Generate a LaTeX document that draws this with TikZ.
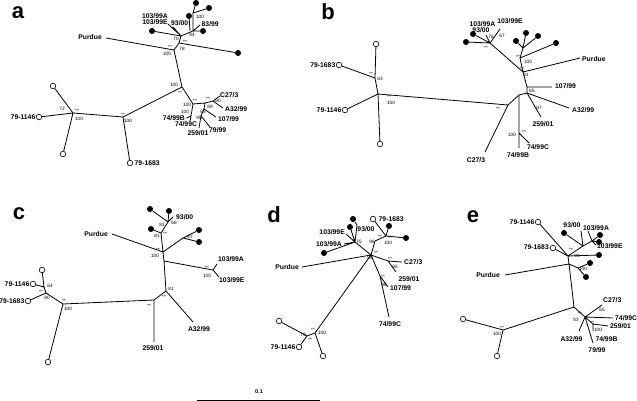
\documentclass[tikz,border=0pt]{standalone}
\usepackage{fontspec}
\setmainfont{Liberation Sans}
\begin{document}
\begin{tikzpicture}[x=1pt,y=-1pt,
 br/.style={line width=0.8pt},
 lf/.style={font=\fontsize{6.8}{7}\selectfont\bfseries, inner sep=0pt},
 bs/.style={font=\fontsize{4.7}{5}\selectfont, inner sep=0pt},
 oc/.style={circle, draw, line width=0.6pt, minimum size=5.6pt, inner sep=0pt, fill=white},
 fc/.style={circle, fill=black, minimum size=6pt, inner sep=0pt},
 pl/.style={font=\fontsize{22}{22}\selectfont\bfseries, inner sep=0pt}]
\useasboundingbox (0,0) rectangle (637,401);
\fill[white] (0,0) rectangle (637,401);
% ================= panel a =================
\node[pl] (la) at (18,13) {a};
\coordinate (a1) at (73,113);
\coordinate (a2) at (123,117);
\coordinate (a3) at (182,87);
\coordinate (a4) at (174,50);
\coordinate (a5) at (179,43);
\coordinate (a6) at (181,36);
\coordinate (a7) at (193,31);
\coordinate (a7b) at (190,31);
\coordinate (a8) at (193,13);
\node[oc] (aO1) at (53,86) {};
\node[oc] (aO2) at (39,117) {};
\node[oc] (aO3) at (63,154) {};
\node[oc] (aO4) at (130,163) {};
\node[lf,anchor=east] (aT1) at (35.5,117) {79-1146};
\node[lf,anchor=west] (aT2) at (134.5,163) {79-1683};
\coordinate (aP) at (106,38);
\node[lf,anchor=east] (aT3) at (102,37) {Purdue};
\node[fc] (aF1) at (238,53) {};
\node[fc] (aF2) at (152,31) {};
\node[fc] (aF3) at (203,31) {};
\node[fc] (aF4) at (196,3) {};
\node[fc] (aF5) at (209,8) {};
\node[fc] (aF6) at (189,16) {};
\coordinate (aE) at (168,24);
\coordinate (aN) at (173,27);
\coordinate (aQ) at (200,25);
\node[lf] (aT4) at (155,16) {103/99A};
\node[lf] (aT5) at (155,22.5) {103/99E};
\node[lf,anchor=west] (aT6) at (171,23.5) {93/00};
\node[lf,anchor=west] (aT7) at (201.5,24) {83/99};
\coordinate (a9) at (193,104);
\coordinate (a9b) at (191,116);
\coordinate (aB) at (186.5,118);
\coordinate (aC) at (190,121);
\node[lf,anchor=east] (aT8) at (185,118) {74/99B};
\node[lf] (aT9) at (186,124.5) {74/99C};
\coordinate (a10) at (205,103);
\coordinate (a11) at (213,101);
\coordinate (aC27) at (220,96);
\coordinate (aA32) at (223,108);
\node[lf,anchor=west] (aT10) at (220,95) {C27/3};
\node[lf,anchor=west] (aT11) at (225,109.5) {A32/99};
\coordinate (a12) at (204,109);
\coordinate (a107) at (216,117);
\node[lf,anchor=west] (aT12) at (218,119) {107/99};
\coordinate (a13) at (201,116);
\coordinate (a79) at (210,127);
\coordinate (a259) at (199,128);
\node[lf,anchor=west] (aT13) at (209,130) {79/99};
\node[lf] (aT14) at (198,133.5) {259/01};
\draw[br] (a1)--(aO1) (a1)--(aO2) (a1)--(aO3) (a1)--(a2) (a2)--(aO4) (a2)--(a3)
 (a3)--(a4) (a4)--(aP) (a4)--(a5) (a5)--(aF1) (a5)--(a6) (a6)--(aF2) (a6)--(aE)
 (a6)--(aN) (a6)--(a7) (a7)--(aF3) (a7)--(aQ) (a7)--(a8) (a8)--(aF4) (a8)--(aF5) (a7b)--(aF6)
 (a3)--(a9) (a9)--(a9b) (a9b)--(aB) (a9b)--(aC) (a9)--(a10) (a10)--(a11) (a11)--(aC27)
 (a11)--(aA32) (a10)--(a12) (a12)--(a107) (a12)--(a13) (a13)--(a79) (a13)--(a259);
\node[bs] (ab1) at (62,109) {72};
\node[bs] (ab2) at (77,111) {**};
\node[bs] (ab3) at (79,119) {100};
\node[bs] (ab4) at (123,115) {**};
\node[bs] (ab5) at (128,121) {100};
\node[bs] (ab6) at (174,85) {100};
\node[bs] (ab7) at (180,92.5) {**};
\node[bs] (ab8) at (167,54) {100};
\node[bs] (ab9) at (170,47) {**};
\node[bs] (ab10) at (182,49) {78};
\node[bs] (ab11) at (185,42) {**};
\node[bs] (ab12) at (176,38.5) {70};
\node[bs] (ab13) at (192,34.5) {84};
\node[bs] (ab14) at (200,17) {100};
\node[bs] (ab15) at (195,101) {**};
\node[bs] (ab16) at (187,104.5) {100};
\node[bs] (ab17) at (185,112) {100};
\node[bs] (ab18) at (208,99) {**};
\node[bs] (ab19) at (218,101) {80};
\node[bs] (ab20) at (210,107) {89};
\node[bs] (ab21) at (203,111.5) {65};
\node[bs] (ab22) at (199,118) {95};
% ================= panel b =================
\node[pl] (lb) at (328,12) {b};
\coordinate (b1) at (375,78);
\coordinate (b2) at (378,94);
\node[oc] (bO1) at (339,65) {};
\node[oc] (bO2) at (376,44) {};
\node[oc] (bO3) at (345,110) {};
\node[oc] (bO4) at (380,144) {};
\node[lf,anchor=east] (bT1) at (335.5,65) {79-1683};
\node[lf,anchor=east] (bT2) at (341.5,110) {79-1146};
\coordinate (b3) at (508,105);
\coordinate (bC27) at (485,152);
\node[lf] (bT3) at (476,160.5) {C27/3};
\coordinate (b4) at (519,95);
\coordinate (bB) at (519,148);
\node[lf] (bT4) at (518,155.5) {74/99B};
\coordinate (bn) at (519,133);
\coordinate (bCc) at (529,143);
\node[lf] (bT5) at (538,147.5) {74/99C};
\coordinate (bq) at (527,93);
\coordinate (bA32) at (569,108);
\node[lf,anchor=west] (bT6) at (572,110.5) {A32/99};
\coordinate (b259) at (541,117);
\node[lf] (bT7) at (543,124.5) {259/01};
\coordinate (b5) at (527,87);
\coordinate (b107) at (552,87);
\node[lf,anchor=west] (bT8) at (555,86.5) {107/99};
\coordinate (b7) at (523,72);
\coordinate (bP) at (580,58);
\node[lf,anchor=west] (bT9) at (582,59) {Purdue};
\coordinate (b8) at (520,58);
\coordinate (bm) at (523,48);
\node[fc] (bF1) at (516,41) {};
\node[fc] (bF2) at (526,33) {};
\node[fc] (bF3) at (538,36) {};
\node[fc] (bF4) at (556,43) {};
\coordinate (b9) at (490,43);
\node[fc] (bF5) at (466,42) {};
\node[fc] (bF6) at (473,34) {};
\coordinate (bE) at (500,29);
\coordinate (bA) at (486,35);
\node[lf] (bT10) at (482.5,24.5) {103/99A};
\node[lf] (bT11) at (481,30.5) {93/00};
\node[lf] (bT12) at (510,21.5) {103/99E};
\draw[br] (b1)--(bO1) (b1)--(bO2) (b1)--(b2) (b2)--(bO3) (b2)--(bO4) (b2)--(b3)
 (b3)--(bC27) (b3)--(b4) (b4)--(bn) (bn)--(bB) (bn)--(bCc) (b4)--(bq) (bq)--(bA32)
 (bq)--(b259) (bq)--(b5) (b5)--(b107) (b5)--(b7) (b7)--(bP) (b7)--(b8) (b8)--(bm)
 (bm)--(bF1) (bm)--(bF2) (bm)--(bF3) (b8)--(bF4) (b7)--(b9) (b9)--(bF5) (b9)--(bF6)
 (b9)--(bE) (b9)--(bA);
\node[bs] (bb1) at (371,73.5) {**};
\node[bs] (bb2) at (380,79) {63};
\node[bs] (bb3) at (389,97) {**};
\node[bs] (bb4) at (391,103) {100};
\node[bs] (bb5) at (498,109) {**};
\node[bs] (bb6) at (512,135) {100};
\node[bs] (bb7) at (524,132) {**};
\node[bs] (bb8) at (532,91) {65};
\node[bs] (bb9) at (539,107.5) {87};
\node[bs] (bb10) at (522,69) {**};
\node[bs] (bb11) at (526,74.5) {81};
\node[bs] (bb12) at (518,57) {**};
\node[bs] (bb13) at (528,62) {100};
\node[bs] (bb14) at (486,48) {**};
\node[bs] (bb15) at (491,37) {76};
\node[bs] (bb16) at (502,36) {67};
% ================= panel c =================
\node[pl] (lc) at (19,214) {c};
\coordinate (c1) at (46,293);
\coordinate (c2) at (44,287);
\node[oc] (cO1) at (28,301) {};
\node[oc] (cO2) at (33,284) {};
\node[oc] (cO3) at (42,270) {};
\node[lf,anchor=east] (cT1) at (24.5,301) {79-1683};
\node[lf,anchor=east] (cT2) at (29.5,284) {79-1146};
\coordinate (c3) at (63,304);
\node[oc] (cO4) at (48,362) {};
\coordinate (c4) at (154,300);
\coordinate (c259) at (154,342);
\node[lf] (cT3) at (153,348.5) {259/01};
\coordinate (c5) at (166,291);
\coordinate (cA32) at (193,322);
\node[lf] (cT4) at (199,329) {A32/99};
\coordinate (c6) at (164,261);
\coordinate (c7) at (163,252);
\coordinate (cP) at (112,234);
\node[lf,anchor=east] (cT5) at (108,234.5) {Purdue};
\coordinate (c8) at (161,233);
\node[fc] (cF1) at (151,229) {};
\coordinate (c9) at (168,222);
\node[fc] (cF2) at (150,209) {};
\node[fc] (cF3) at (169,211) {};
\coordinate (c93) at (173,217);
\node[lf,anchor=west] (cT6) at (176,217.5) {93/00};
\coordinate (c10) at (183,238);
\node[fc] (cF4) at (199,230) {};
\node[fc] (cF5) at (199,242) {};
\coordinate (c11) at (213,270);
\coordinate (cA) at (217,264);
\coordinate (cE) at (219,277);
\node[lf,anchor=west] (cT7) at (218,259.5) {103/99A};
\node[lf,anchor=west] (cT8) at (219,280.5) {103/99E};
\draw[br] (c2)--(cO2) (c2)--(cO3) (c2)--(c1) (c1)--(cO1) (c1)--(c3) (c3)--(cO4) (c3)--(c4)
 (c4)--(c259) (c4)--(c5) (c5)--(cA32) (c5)--(c6) (c6)--(c7) (c7)--(cP) (c7)--(c8)
 (c8)--(cF1) (c8)--(c9) (c9)--(cF2) (c9)--(cF3) (c9)--(c93) (c7)--(c10) (c10)--(cF4)
 (c10)--(cF5) (c6)--(c11) (c11)--(cA) (c11)--(cE);
\node[bs] (cb1) at (41,292) {**};
\node[bs] (cb2) at (47,298) {90};
\node[bs] (cb3) at (50,286) {64};
\node[bs] (cb4) at (64,301) {**};
\node[bs] (cb5) at (68,309) {100};
\node[bs] (cb6) at (149,306) {**};
\node[bs] (cb7) at (171,289) {81};
\node[bs] (cb8) at (164,297) {**};
\node[bs] (cb9) at (158,250) {**};
\node[bs] (cb10) at (155,256) {100};
\node[bs] (cb11) at (157,236) {81};
\node[bs] (cb12) at (165,234) {**};
\node[bs] (cb13) at (162,225) {81};
\node[bs] (cb14) at (174,223) {68};
\node[bs] (cb15) at (190,237) {87};
\node[bs] (cb16) at (207,268) {**};
\node[bs] (cb17) at (207,276) {100};
% ================= panel d =================
\node[pl] (ld) at (274,215) {d};
\coordinate (d1) at (315,333);
\node[oc] (dO1) at (323,356) {};
\coordinate (d2) at (307,336);
\node[oc] (dO2) at (279,321) {};
\node[oc] (dO3) at (299,347) {};
\node[lf,anchor=east] (dT1) at (295.5,347) {79-1146};
\coordinate (d3) at (371,255);
\coordinate (dP) at (302,267);
\node[lf,anchor=east] (dT2) at (299,267.5) {Purdue};
\coordinate (d4) at (388,261);
\coordinate (dC) at (402,262);
\node[lf,anchor=west] (dT3) at (404,262.5) {C27/3};
\coordinate (d259) at (396,272);
\node[lf] (dT4) at (409,279) {259/01};
\coordinate (d5) at (380,276);
\coordinate (d107) at (388,287);
\node[lf,anchor=west] (dT5) at (390,288.5) {107/99};
\coordinate (dCc) at (389,317);
\node[lf] (dT6) at (390,324.5) {74/99C};
\coordinate (d6) at (355,242);
\coordinate (dE) at (346,234);
\coordinate (dA) at (344,244);
\node[lf,anchor=east] (dT7) at (345,232.5) {103/99E};
\node[lf,anchor=east] (dT8) at (342,244.5) {103/99A};
\node[fc] (dF1) at (324,253) {};
\node[fc] (dF2) at (350,227) {};
\node[fc] (dF3) at (353,219) {};
\coordinate (d93) at (357,225);
\node[lf] (dT9) at (366,229.5) {93/00};
\coordinate (d7) at (375,241);
\coordinate (d8) at (386,236);
\node[oc] (dO4) at (373,219) {};
\node[lf,anchor=west] (dT10) at (378.5,219) {79-1683};
\node[fc] (dF4) at (389,226) {};
\node[fc] (dF5) at (406,238) {};
\draw[br] (d1)--(dO1) (d1)--(d2) (d2)--(dO2) (d2)--(dO3) (d1)--(d3) (d3)--(dP) (d3)--(d4)
 (d4)--(dC) (d4)--(d259) (d3)--(d5) (d5)--(d107) (d5)--(dCc) (d3)--(d6) (d6)--(dE)
 (d6)--(dA) (d6)--(dF1) (d6)--(dF2) (d6)--(d93) (d93)--(dF3) (d3)--(d7) (d7)--(d8)
 (d8)--(dO4) (d8)--(dF4) (d8)--(dF5);
\node[bs] (db1) at (313,330) {**};
\node[bs] (db2) at (322,333) {100};
\node[bs] (db3) at (303,335) {79};
\node[bs] (db4) at (310,340) {**};
\node[bs] (db5) at (376,253) {**};
\node[bs] (db6) at (370,258) {85};
\node[bs] (db7) at (390,259) {**};
\node[bs] (db8) at (395,267) {85};
\node[bs] (db9) at (383,277) {**};
\node[bs] (db10) at (384,285) {96};
\node[bs] (db11) at (359,242) {75};
\node[bs] (db12) at (372,242) {96};
\node[bs] (db13) at (380,237) {**};
\node[bs] (db14) at (390,238) {**};
\node[bs] (db15) at (388,243) {100};
% ================= panel e =================
\node[pl] (le) at (473,217) {e};
\coordinate (e1) at (503,330);
\node[oc] (eO1) at (463,319) {};
\node[oc] (eO2) at (497,356) {};
\coordinate (e2) at (574,307);
\coordinate (e3) at (569,264);
\coordinate (eP) at (505,275);
\node[lf,anchor=east] (eT1) at (500,275.5) {Purdue};
\coordinate (e4) at (578,268);
\node[fc] (eF1) at (586,277) {};
\node[fc] (eF2) at (590,263) {};
\coordinate (e5) at (568,256);
\node[oc] (eO3) at (553,248) {};
\node[oc] (eO4) at (538,222) {};
\node[lf,anchor=east] (eT2) at (549,247.5) {79-1683};
\node[lf,anchor=east] (eT3) at (534.5,222.5) {79-1146};
\coordinate (e6) at (583,246);
\node[fc] (eF3) at (564,233) {};
\node[fc] (eF4) at (599,255) {};
\coordinate (e7) at (592,241);
\coordinate (e93) at (581,231);
\node[lf] (eT4) at (572,225.5) {93/00};
\coordinate (eA) at (588,231);
\node[lf,anchor=west] (eT5) at (583,228) {103/99A};
\node[fc] (eF5) at (600,235) {};
\node[fc] (eF6) at (599,242) {};
\coordinate (eE) at (596,245);
\node[lf,anchor=west] (eT6) at (597,246.5) {103/99E};
\coordinate (e8) at (585,317);
\coordinate (eC27) at (602,305);
\node[lf,anchor=west] (eT7) at (603,300.5) {C27/3};
\coordinate (eCc) at (613,318);
\node[lf,anchor=west] (eT8) at (615,318.5) {74/99C};
\coordinate (e9) at (593,324);
\coordinate (e259) at (608,326);
\node[lf,anchor=west] (eT9) at (610,326) {259/01};
\coordinate (eB) at (593,331);
\node[lf] (eT10) at (606.5,339) {74/99B};
\coordinate (eA32) at (579,331);
\node[lf] (eT11) at (571.5,339) {A32/99};
\coordinate (e79) at (593,343);
\node[lf] (eT12) at (597,350) {79/99};
\draw[br] (e1)--(eO1) (e1)--(eO2) (e1)--(e2) (e2)--(e3) (e3)--(eP) (e3)--(e4) (e4)--(eF1)
 (e4)--(eF2) (e3)--(e5) (e5)--(eO3) (e5)--(eO4) (e5)--(e6) (e6)--(eF3) (e5)--(eF4)
 (e6)--(e7) (e6)--(e93) (e7)--(eA) (e7)--(eF5) (e7)--(eF6) (e7)--(eE)
 (e2)--(e8) (e8)--(eC27) (e8)--(eCc) (e8)--(e9) (e9)--(e259) (e9)--(eB) (e8)--(eA32) (e8)--(e79);
\node[bs] (eb1) at (502,328) {**};
\node[bs] (eb2) at (497,334) {100};
\node[bs] (eb3) at (571,250) {**};
\node[bs] (eb4) at (577,256) {99};
\node[bs] (eb5) at (583,269) {100};
\node[bs] (eb6) at (580,314) {**};
\node[bs] (eb7) at (576,320) {83};
\node[bs] (eb8) at (602,310) {65};
\node[bs] (eb9) at (592,323) {**};
\node[bs] (eb10) at (598,330) {100};
% ================= scale bar =================
\coordinate (s1) at (197,400);
\coordinate (s2) at (320,400);
\draw[line width=0.9pt] (s1)--(s2);
\node[font=\fontsize{5.5}{6}\selectfont\bfseries, inner sep=0pt] (sT) at (259,391.5) {0.1};
\end{tikzpicture}
\end{document}
